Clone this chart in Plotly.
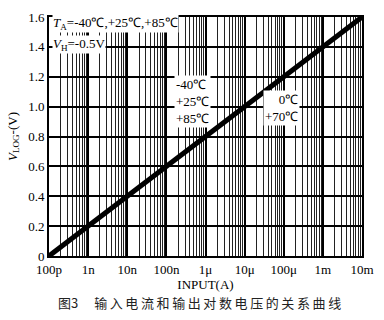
import plotly.graph_objects as go

# Data
input_current = [1e-10, 1e-9, 1e-8, 1e-7, 1e-6, 1e-5, 1e-4, 1e-3, 1e-2]
v_log = [0.0, 0.2, 0.4, 0.6, 0.8, 1.0, 1.2, 1.4, 1.6]
x_tick_vals = [1e-10, 1e-9, 1e-8, 1e-7, 1e-6, 1e-5, 1e-4, 1e-3, 1e-2]
x_tick_text = ["100p", "1n", "10n", "100n", "1\u03bc", "10\u03bc", "100\u03bc", "1m", "10m"]
y_tick_vals = [0, 0.2, 0.4, 0.6, 0.8, 1.0, 1.2, 1.4, 1.6]
y_tick_text = ["0", "0.2", "0.4", "0.6", "0.8", "1.0", "1.2", "1.4", "1.6"]
minor_vals = [m * d for d in x_tick_vals[:-1] for m in range(2, 10)]
caption_label = "\u56fe3"
caption_body = "\u8f93\u5165\u7535\u6d41\u548c\u8f93\u51fa\u5bf9\u6570\u7535\u538b\u7684\u5173\u7cfb\u66f2\u7ebf"

L, R, T, B = 49, 16, 10, 64
W, H = 384, 320
pw, ph = W - L - R, H - T - B


def px(x):
    return (x - L) / pw


def py(y):
    return (H - B - y) / ph


serif = "Liberation Serif"

fig = go.Figure()
fig.add_trace(go.Scatter(
    x=input_current, y=v_log, mode="lines",
    line=dict(color="black", width=5), showlegend=False,
))

fig.update_layout(
    width=W, height=H,
    margin=dict(l=L, r=R, t=T, b=B),
    paper_bgcolor="white", plot_bgcolor="white",
    font=dict(family=serif, size=13, color="black"),
    xaxis=dict(
        type="log", range=[-10, -2],
        tickmode="array", tickvals=x_tick_vals, ticktext=x_tick_text,
        showgrid=True, gridcolor="black", gridwidth=1.6,
        minor=dict(tickvals=minor_vals, showgrid=True, gridcolor="#222", gridwidth=1.2, ticks=""),
        showline=True, linecolor="black", linewidth=2, mirror=True,
        ticks="", zeroline=False,
        tickfont=dict(family=serif, size=13),
        title=dict(text="INPUT(A)", font=dict(family=serif, size=13), standoff=2),
    ),
    yaxis=dict(
        range=[0, 1.6],
        tickmode="array", tickvals=y_tick_vals, ticktext=y_tick_text,
        showgrid=True, gridcolor="black", gridwidth=1.5,
        showline=True, linecolor="black", linewidth=2, mirror=True,
        ticks="", zeroline=False,
        tickfont=dict(family=serif, size=13),
        title=dict(text="<i>V</i><sub>LOG</sub>-(V)", font=dict(family=serif, size=13), standoff=8),
    ),
)

spaced = "\u2009".join(caption_body)
ann = [
    dict(x=px(52), y=py(17), text="<i>T</i><sub>A</sub>=-40\u2103,+25\u2103,+85\u2103",
         xanchor="left", yanchor="middle", bgcolor="white", borderpad=0),
    dict(x=px(52), y=py(38), text="<i>V</i><sub>H</sub>=-0.5V",
         xanchor="left", yanchor="middle", bgcolor="white", borderpad=0),
    dict(x=px(176), y=py(97), text="-40\u2103<br>+25\u2103<br>+85\u2103",
         xanchor="left", yanchor="middle", align="left", bgcolor="white", borderpad=1),
    dict(x=px(305), y=py(104), text="0\u2103<br>+70\u2103",
         xanchor="right", yanchor="middle", align="right", bgcolor="white", borderpad=1),
    dict(x=px(56), y=py(304), text=caption_label + "\u3000 " + spaced,
         xanchor="left", yanchor="middle",
         font=dict(family="Noto Sans CJK SC", size=13, color="#222")),
]
for a in ann:
    a.setdefault("font", dict(family=serif, size=13, color="black"))
    fig.add_annotation(xref="paper", yref="paper", showarrow=False, **a)

fig.write_html("out.html")
